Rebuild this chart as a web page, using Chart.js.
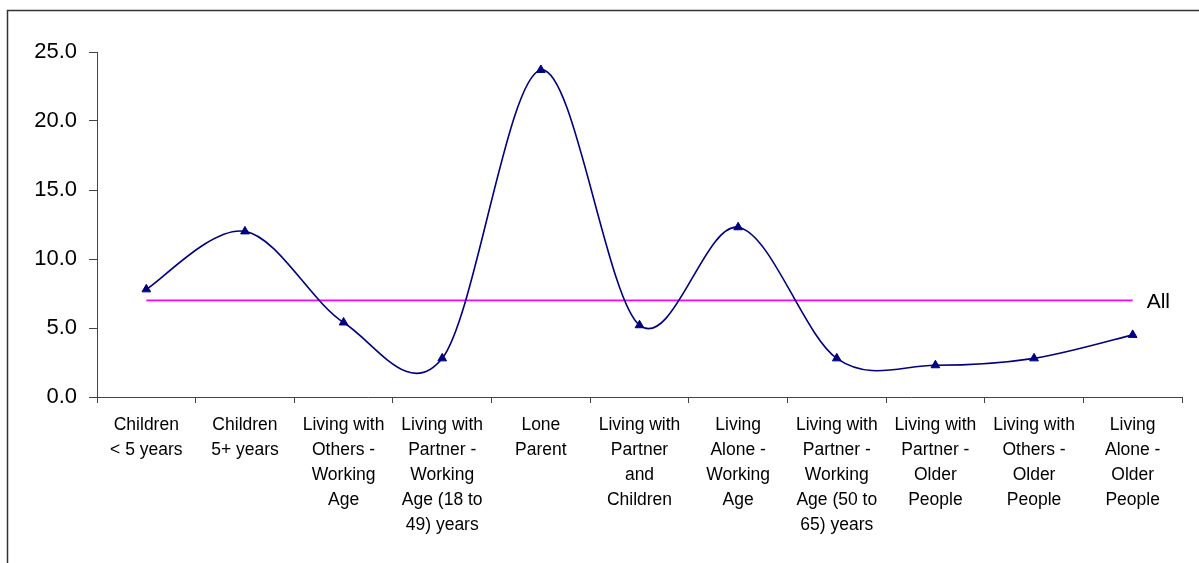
<!DOCTYPE html>
<html>
<head>
<meta charset="utf-8">
<script src="https://cdn.jsdelivr.net/npm/chart.js@4"></script>
<style>
  html, body { margin: 0; padding: 0; background: #fff; }
  #wrap { position: relative; width: 1199px; height: 563px; }
</style>
</head>
<body>
<div id="wrap"><canvas id="chart1" width="1199" height="563"></canvas></div>
<script>
// household groups along the bottom axis
const categories = [
  ["Children", "< 5 years"],
  ["Children", "5+ years"],
  ["Living with", "Others -", "Working", "Age"],
  ["Living with", "Partner -", "Working", "Age (18 to", "49) years"],
  ["Lone", "Parent"],
  ["Living with", "Partner", "and", "Children"],
  ["Living", "Alone -", "Working", "Age"],
  ["Living with", "Partner -", "Working", "Age (50 to", "65) years"],
  ["Living with", "Partner -", "Older", "People"],
  ["Living with", "Others -", "Older", "People"],
  ["Living", "Alone -", "Older", "People"]
];

const rates = [7.8, 12.0, 5.4, 2.8, 23.7, 5.2, 12.3, 2.8, 2.3, 2.8, 4.5];
const allRate = 7.0;
const allLabel = "All";
const yTicks = [0, 5, 10, 15, 20, 25];

// frame round the whole chart
const framePlugin = {
  id: "frame",
  beforeDraw(chart) {
    const c = chart.ctx;
    c.save();
    c.fillStyle = "#fff";
    c.fillRect(0, 0, chart.width, chart.height);
    c.strokeStyle = "#333";
    c.lineWidth = 1.5;
    c.strokeRect(7.5, 10.5, chart.width + 20, chart.height + 20);
    c.restore();
  }
};

// plain catmull-rom handles (1/6 of the neighbour chord) for the smoothed series
const smoothPlugin = {
  id: "smooth",
  beforeDatasetDraw(chart, args) {
    if (args.index !== 0) return;
    const meta = args.meta;
    meta.dataset.updateControlPoints(chart.chartArea, "x");
    const pts = meta.data;
    for (let i = 0; i < pts.length; i++) {
      const p = pts[i];
      const prev = pts[Math.max(i - 1, 0)];
      const next = pts[Math.min(i + 1, pts.length - 1)];
      const tx = (next.x - prev.x) / 6;
      const ty = (next.y - prev.y) / 6;
      p.cp1x = p.x - tx;
      p.cp1y = p.y - ty;
      p.cp2x = p.x + tx;
      p.cp2y = p.y + ty;
    }
  }
};

// "All" written at the end of the reference line
const allLabelPlugin = {
  id: "allLabel",
  afterDatasetsDraw(chart) {
    const x = chart.scales.x.getPixelForValue(categories.length - 1) + 14;
    const y = chart.scales.y.getPixelForValue(allRate);
    const c = chart.ctx;
    c.save();
    c.fillStyle = "#000";
    c.font = "21px 'Liberation Sans', Arial, sans-serif";
    c.textAlign = "left";
    c.textBaseline = "middle";
    c.fillText(allLabel, x, y + 2);
    c.restore();
  }
};

let ctx1 = document.getElementById("chart1").getContext("2d");
let chart1 = new Chart(ctx1, {
  type: "line",
  data: {
    labels: categories,
    datasets: [
      {
        label: "Rate",
        data: rates,
        borderColor: "#000080",
        backgroundColor: "#000080",
        borderWidth: 1.6,
        tension: 0.4,
        pointStyle: "triangle",
        pointRadius: 5,
        pointBorderWidth: 1,
        fill: false
      },
      {
        label: allLabel,
        data: categories.map(() => allRate),
        borderColor: "#ff00ff",
        borderWidth: 1.6,
        tension: 0,
        pointRadius: 0,
        fill: false
      }
    ]
  },
  options: {
    responsive: false,
    animation: false,
    layout: { padding: { top: 52, right: 17, bottom: 0, left: 0 } },
    plugins: { legend: { display: false }, tooltip: { enabled: false } },
    scales: {
      x: {
        offset: true,
        grid: { offset: true, drawOnChartArea: false, tickLength: 6, color: "#444", lineWidth: 1 },
        border: { color: "#444", width: 1 },
        ticks: {
          autoSkip: false,
          maxRotation: 0,
          minRotation: 0,
          padding: 10,
          color: "#000",
          font: { family: "'Liberation Sans', Arial, sans-serif", size: 17.5, lineHeight: 1.43 }
        },
        afterFit(scale) { scale.height = 166; }
      },
      y: {
        min: 0,
        max: 25,
        afterBuildTicks(scale) { scale.ticks = yTicks.map(v => ({ value: v })); },
        grid: { drawOnChartArea: false, tickLength: 8, color: "#444", lineWidth: 1 },
        border: { color: "#444", width: 1 },
        ticks: {
          padding: 12,
          color: "#000",
          font: { family: "'Liberation Sans', Arial, sans-serif", size: 22 },
          callback: v => Number(v).toFixed(1)
        },
        afterFit(scale) { scale.width = 97; }
      }
    }
  },
  plugins: [framePlugin, smoothPlugin, allLabelPlugin]
});
</script>
</body>
</html>
